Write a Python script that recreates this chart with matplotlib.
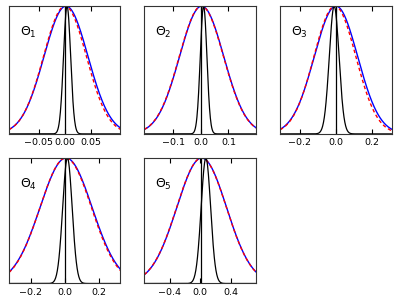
import numpy as np
import matplotlib
matplotlib.use('Agg')
import matplotlib.pyplot as plt

# per panel: x-range, tick positions, tick labels
labels = [r'$\Theta_1$', r'$\Theta_2$', r'$\Theta_3$', r'$\Theta_4$', r'$\Theta_5$']
xlims = [(-0.107, 0.106), (-0.205, 0.2), (-0.31, 0.31), (-0.33, 0.33), (-0.73, 0.73)]
ticks = [[-0.05, 0.0, 0.05], [-0.1, 0.0, 0.1], [-0.2, 0.0, 0.2], [-0.2, 0.0, 0.2], [-0.4, 0.0, 0.4]]
tick_labels = [['\u22120.05', '0.00', '0.05'], ['\u22120.1', '0.0', '0.1'], ['\u22120.2', '0.0', '0.2'],
               ['\u22120.2', '0.0', '0.2'], ['\u22120.4', '0.0', '0.4']]

# Gaussian curves (mean, width), peaks scaled to 1
blue_mean = [0.002, 0.003, 0.0, 0.008, 0.02]
blue_sigma = [0.042, 0.08, 0.12, 0.154, 0.325]
red_mean = [0.0, 0.002, -0.006, 0.006, 0.018]
red_sigma = [0.041, 0.08, 0.116, 0.152, 0.325]
narrow_mean = [0.004, 0.01, -0.01, 0.016, 0.075]
narrow_sigma = [0.0068, 0.012, 0.027, 0.028, 0.062]
true_value = [0.0, 0.0, 0.0, 0.002, 0.005]

# axes boxes in figure fractions
boxes = [(0.022, 0.561, 0.274, 0.419), (0.3545, 0.561, 0.2745, 0.419), (0.688, 0.561, 0.275, 0.419),
         (0.022, 0.0705, 0.274, 0.4115), (0.3545, 0.0705, 0.2745, 0.4115)]


def bump(x, m, s):
    return np.exp(-0.5 * ((x - m) / s) ** 2)


fig = plt.figure(figsize=(4.07, 3.05), dpi=100)
for i in range(5):
    ax = fig.add_axes(boxes[i])
    x = np.linspace(xlims[i][0], xlims[i][1], 400)
    ax.plot(x, bump(x, blue_mean[i], blue_sigma[i]), color='b', lw=1)
    ax.plot(x, bump(x, red_mean[i], red_sigma[i]), color='r', lw=1, dashes=(2.5, 2))
    ax.plot(x, bump(x, narrow_mean[i], narrow_sigma[i]), color='k', lw=0.9)
    ax.axvline(true_value[i], color='k', lw=0.9)
    ax.set_xlim(xlims[i])
    ax.set_ylim(0, 1)
    ax.set_yticks([])
    ax.set_xticks(ticks[i])
    ax.set_xticklabels(tick_labels[i], fontsize=6.8)
    ax.tick_params(axis='x', direction='in', top=True, length=3.5, pad=3)
    for sp in ax.spines.values():
        sp.set_color('0.2')
    ax.text(0.1, 0.79, labels[i], transform=ax.transAxes, fontsize=9, va='center')

fig.savefig('out.png', dpi=100)
